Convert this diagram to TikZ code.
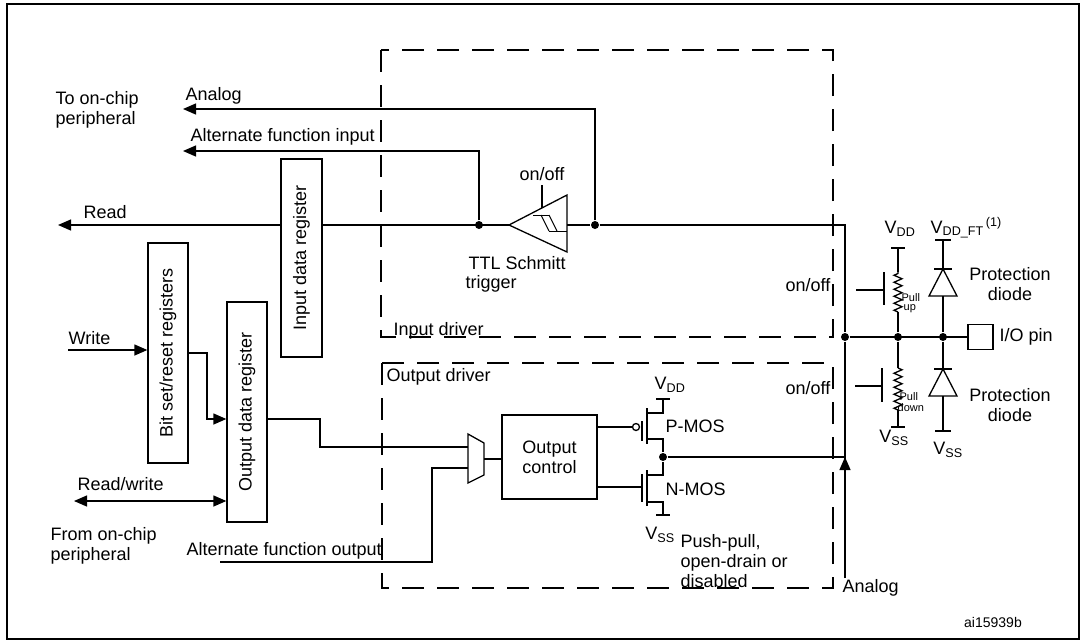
\documentclass[tikz,border=0pt]{standalone}
\usepackage{fontspec}
\setmainfont{Liberation Sans}
\usetikzlibrary{arrows.meta,decorations.pathmorphing}
\begin{document}
\begin{tikzpicture}[x=1pt,y=-1pt,line width=1.3pt,
  txt/.style={font=\fontsize{18}{20}\selectfont,inner sep=0pt},
  sm/.style={font=\fontsize{11}{11}\selectfont,inner sep=0pt,align=left},
  dbox/.style={line width=1.5pt,dash pattern=on 22pt off 13pt},
  arr/.style={-{Triangle[length=13pt,width=11pt]}},
  dot/.style={circle,fill,inner sep=0pt,minimum size=8pt},
  reg/.style={draw,txt,rotate=90},
  zz/.style={decorate,decoration={zigzag,segment length=7pt,amplitude=4pt}}]
\useasboundingbox (0,0) rectangle (1085,643);
\draw[line width=1.6pt] (7,4) rectangle (1079,639);
% dashed boxes
\draw[dbox] (381,50) rectangle (833,337);
\draw[dbox] (382,363) rectangle (833,588);
\node[txt,anchor=west] at (393,331) {Input driver};
\node[txt,anchor=west] at (386,377) {Output driver};
% text left
\node[txt,anchor=west,align=left] at (55,110) {To on-chip\\peripheral};
\node[txt,anchor=west,align=left] at (50,546) {From on-chip\\peripheral};
% junctions
\node[dot] (jR) at (479,225) {};
\node[dot] (jS) at (595,225) {};
\node[dot] (jM) at (845,337) {};
\node[dot] (jP) at (898,337) {};
\node[dot] (jD) at (943,337) {};
\node[dot] (jO) at (663,457) {};
% registers
\node[reg,minimum height=41pt,minimum width=198pt] (idr) at (301.5,258) {Input data register};
\node[reg,minimum height=40pt,minimum width=220pt] (bsr) at (168,353) {Bit set/reset registers};
\node[reg,minimum height=40pt,minimum width=220pt] (odr) at (247,412) {Output data register};
% Analog / AF input
\coordinate (an) at (183,109);
\coordinate (af) at (183,151);
\coordinate (rd) at (58,225);
\draw[arr] (jS) |- (an);
\node[txt,anchor=west] at (185,96) {Analog};
\draw[arr] (jR) |- (af);
\node[txt,anchor=west] at (190,137) {Alternate function input};
% main read line
\draw (jS) -- (845,225) -- (jM);
\draw (509,225) -- (idr.south |- jR);
\draw[arr] (idr.north |- jR) -- (rd);
\node[txt,anchor=west] at (83,212) {Read};
% Schmitt trigger
\draw (509,225) -- (567,195) -- (567,252) -- cycle;
\draw (567,225) -- (jS);
\draw[line width=1pt] (533,215) -- (549,215);
\draw[line width=1pt] (541,215) -- (549,231) (549,215) -- (557,231);
\draw[line width=1pt] (549,231) -- (567,231);
\draw (542,185) -- (542,208);
\node[txt] at (542,174) {on/off};
\node[txt,anchor=west] at (468,263) {TTL Schmitt};
\node[txt,anchor=west] at (465,284) {trigger};
% write
\coordinate (wr) at (68,350);
\draw[arr] (wr) -- (bsr.north |- wr);
\node[txt,anchor=west] at (68,338) {Write};
\draw[arr] (bsr.south |- 0,353) -- (207,353) -- (207,419) -- (odr.north |- 0,419);
\coordinate (rw) at (74,501);
\draw[{Triangle[length=13pt,width=11pt]}-{Triangle[length=13pt,width=11pt]}] (rw) -- (odr.north |- rw);
\node[txt,anchor=west] at (77,484) {Read/write};
% mux
\draw (468,434) -- (484,443) -- (484,475) -- (468,483) -- cycle;
\draw (odr.south |- 0,419) -- (320,419) -- (320,447) -- (468,447);
\draw (220,562) -- (432,562) -- (432,468) -- (468,468);
\node[txt,anchor=west] at (186,551) {Alternate function output};
\node[draw,txt,minimum width=95pt,minimum height=84pt,align=center] (oc) at (549.5,457) {Output\\control};
\draw (484,459) -- (oc.west |- 0,459);
% P-MOS
\draw (oc.east |- 0,427) -- (632,427);
\draw (636,427) circle (3.5pt);
\draw (642,421) -- (642,441);
\draw (647,408) -- (647,444);
\draw (647,413) -- (663,413) -- (663,399);
\draw (656,399) -- (670,399);
\draw (647,439) -- (663,439) -- (jO);
\node[txt] at (670,385) {V\textsubscript{DD}};
\node[txt,anchor=west] at (665,426) {P-MOS};
% N-MOS
\draw (oc.east |- 0,487) -- (642,487);
\draw (642,474) -- (642,502);
\draw (647,470) -- (647,506);
\draw (647,475) -- (663,475) -- (jO);
\draw (647,502) -- (663,502) -- (663,515);
\draw (656,515) -- (670,515);
\node[txt] at (660,535) {V\textsubscript{SS}};
\node[txt,anchor=west] at (665,489) {N-MOS};
\node[txt,anchor=north west,align=left] at (680,534) {Push-pull,\\open-drain or\\disabled};
\draw (jO) -- (845,457);
% analog bottom
\coordinate (ab) at (845,578);
\draw (jM) -- (ab);
\draw[arr] (ab) -- (845,457);
\node[txt,anchor=west] at (842,588) {Analog};
% right side
\node[draw,minimum size=25pt,inner sep=0pt] (io) at (980.5,337) {};
\draw (jM) -- (io);
\node[txt,anchor=west] at (999,337) {I/O pin};
% pull up
\draw (jP) -- (898,312);
\draw[zz] (898,312) -- (898,272);
\draw (898,272) -- (898,248);
\draw (891,248) -- (905,248);
\draw (884,272) -- (884,305);
\draw (856,290) -- (884,290);
\node[sm,anchor=west] at (901,298) {Pull};
\node[sm,anchor=west] at (903,309) {up};
\node[txt] at (900,229) {V\textsubscript{DD}};
\node[txt,anchor=east] at (831,285) {on/off};
% pull down
\draw (jP) -- (898,368);
\draw[zz] (898,368) -- (898,410);
\draw (898,410) -- (898,427);
\draw (891,427) -- (905,427);
\draw (882,368) -- (882,402);
\draw (855,386) -- (882,386);
\node[sm,anchor=west] at (899,397) {Pull};
\node[sm,anchor=west] at (897,408) {down};
\node[txt] at (894,438) {V\textsubscript{SS}};
\node[txt,anchor=east] at (831,388) {on/off};
% diodes
\draw (935,240) -- (951,240);
\draw (943,240) -- (943,269);
\draw (934,269) -- (952,269);
\draw (943,269) -- (929,296) -- (957,296) -- cycle;
\draw (943,296) -- (jD);
\draw (jD) -- (943,369);
\draw (934,369) -- (952,369);
\draw (943,369) -- (929,396) -- (957,396) -- cycle;
\draw (943,396) -- (943,431);
\draw (935,431) -- (951,431);
\node[txt,anchor=west] at (930,228) {V\textsubscript{DD\_FT}\textsuperscript{\,(1)}};
\node[txt] at (948,450) {V\textsubscript{SS}};
\node[txt,align=center] at (1010,284) {Protection\\diode};
\node[txt,align=center] at (1010,405) {Protection\\diode};
\node[txt,font=\fontsize{14}{16}\selectfont] at (993,622) {ai15939b};
\end{tikzpicture}
\end{document}
